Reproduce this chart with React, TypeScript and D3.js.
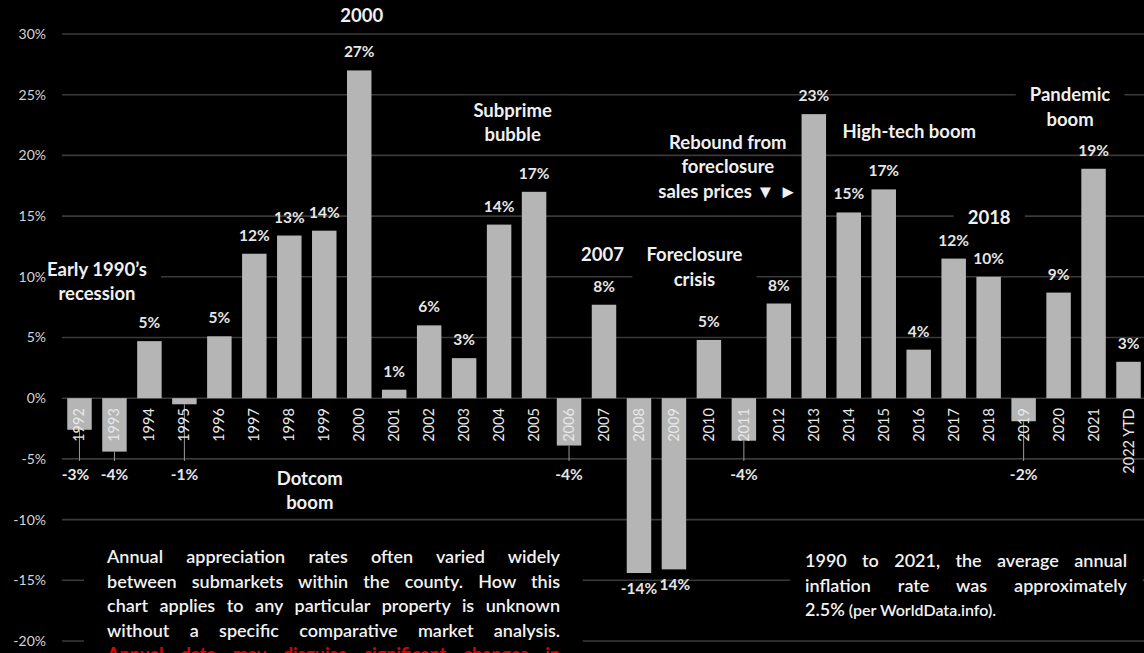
import React, { useEffect, useRef } from "react";
import * as d3 from "d3";

const years = [
  "1992", "1993", "1994", "1995", "1996", "1997", "1998", "1999", "2000", "2001",
  "2002", "2003", "2004", "2005", "2006", "2007", "2008", "2009", "2010", "2011",
  "2012", "2013", "2014", "2015", "2016", "2017", "2018", "2019", "2020", "2021", "2022 YTD",
];
const values = [
  -2.6, -4.4, 4.7, -0.5, 5.1, 11.9, 13.4, 13.8, 27.0, 0.7,
  6.0, 3.3, 14.3, 17.0, -3.9, 7.7, -14.4, -14.1, 4.8, -3.5,
  7.8, 23.4, 15.3, 17.2, 4.0, 11.5, 10.0, -1.9, 8.7, 18.9, 3.0,
];
const valueLabels = [
  "-3%", "-4%", "5%", "-1%", "5%", "12%", "13%", "14%", "27%", "1%",
  "6%", "3%", "14%", "17%", "-4%", "8%", "-14%", "14%", "5%", "-4%",
  "8%", "23%", "15%", "17%", "4%", "12%", "10%", "-2%", "9%", "19%", "3%",
];
const yTicks = [30, 25, 20, 15, 10, 5, 0, -5, -10, -15, -20];
const tickLabels = ["30%", "25%", "20%", "15%", "10%", "5%", "0%", "-5%", "-10%", "-15%", "-20%"];

const annotations = [
  { cat: "2000", dx: 2.5, v: 31.5, lines: ["2000"], box: true },
  { cat: "1992", dx: 17.5, v: 10.6, lines: ["Early 1990\u2019s", "recession"], box: true },
  { cat: "1999", dx: -14.5, v: -6.6, lines: ["Dotcom", "boom"], box: false },
  { cat: "2004", dx: 13.5, v: 23.7, lines: ["Subprime", "bubble"], box: true },
  { cat: "2007", dx: -1.5, v: 11.8, lines: ["2007"], box: false },
  { cat: "2010", dx: -14.5, v: 11.8, lines: ["Foreclosure", "crisis"], box: true },
  { cat: "2012", dx: -51, v: 21.1, lines: ["Rebound from", "foreclosure", "sales prices \u25BC \u25BA"], box: false },
  { cat: "2015", dx: 25.5, v: 22.0, lines: ["High-tech boom"], box: false },
  { cat: "2018", dx: 0.5, v: 14.9, lines: ["2018"], box: true },
  { cat: "2021", dx: -23.5, v: 25.0, lines: ["Pandemic", "boom"], box: true },
];

const leftNote = [
  "Annual appreciation rates often varied widely",
  "between submarkets within the county. How this",
  "chart applies to any particular property is unknown",
  "without a specific comparative market analysis.",
];
const leftNoteRed = "Annual data may disguise significant changes in";
const rightNote = ["1990 to 2021, the average annual", "inflation rate was approximately"];
const rightNoteLast = ["2.5%", " (per WorldData.info)."];

const W = 1144;
const H = 653;
const FONT = "Lato, 'Open Sans', sans-serif";

export default function App() {
  const svgRef = useRef<SVGSVGElement>(null);
  const maskRef = useRef<SVGGElement>(null);

  const x = d3.scaleBand<string>().domain(years).range([62, 1146]).paddingInner(0.3).paddingOuter(0.15);
  const y = d3.scaleLinear().domain([-20, 30]).range([641, 34]);
  const bw = x.bandwidth();
  const cx = (c: string) => (x(c) as number) + bw / 2;
  const lh = 24.5;

  useEffect(() => {
    const svg = svgRef.current;
    if (!svg) return;
    d3.select(svg).selectAll<SVGTextElement, unknown>("text.justify").each(function () {
      const target = +(this.getAttribute("data-width") || 0);
      this.style.wordSpacing = "0px";
      const natural = this.getComputedTextLength();
      const spaces = ((this.textContent || "").match(/ /g) || []).length;
      if (spaces > 0) this.style.wordSpacing = `${(target - natural) / spaces}px`;
    });
    const mask = d3.select(maskRef.current);
    mask.selectAll("*").remove();
    d3.select(svg).selectAll<SVGGraphicsElement, unknown>("[data-box]").each(function () {
      const b = this.getBBox();
      const px = +(this.getAttribute("data-padx") || 15);
      const py = +(this.getAttribute("data-pady") || 4);
      mask.append("rect")
        .attr("x", b.x - px).attr("y", b.y - py)
        .attr("width", b.width + 2 * px).attr("height", b.height + 2 * py)
        .attr("fill", "#000");
    });
  }, []);

  return (
    <svg ref={svgRef} width={W} height={H} style={{ position: "absolute", left: 0, top: 0, display: "block" }} fontFamily={FONT}>
      <rect x={0} y={0} width={W} height={H} fill="#000" />
      <g>
        {yTicks.map((t) => (
          <line key={t} x1={62} x2={W} y1={y(t)} y2={y(t)} stroke="#3a3a3a" strokeWidth={1.6} />
        ))}
      </g>
      <g ref={maskRef} />
      <g>
        {yTicks.map((t, i) => (
          <text key={t} x={46} y={y(t)} dy="0.35em" textAnchor="end" fontSize={14} fill="#d4d4d4">
            {tickLabels[i]}
          </text>
        ))}
      </g>
      <g>
        {years.map((c, i) => {
          const v = values[i];
          const y0 = y(0);
          const y1 = y(v);
          return (
            <rect key={c} x={x(c)} y={Math.min(y0, y1)} width={bw} height={Math.abs(y1 - y0)} fill="#b5b5b5" />
          );
        })}
      </g>
      <g>
        {years.map((c, i) => {
          const v = values[i];
          if (v >= 0 || v < -10) return null;
          return (
            <line key={c} x1={cx(c)} x2={cx(c)} y1={y(v)} y2={y(-5) + 2} stroke="#9a9a9a" strokeWidth={1} />
          );
        })}
      </g>
      <g>
        {years.map((c) => (
          <text
            key={c}
            transform={`translate(${cx(c) + 5},${y(0) + 10}) rotate(-90)`}
            textAnchor="end"
            fontSize={14.5}
            fill="#e8e8e8"
          >
            {c}
          </text>
        ))}
      </g>
      <g>
        {years.map((c, i) => {
          const v = values[i];
          let yy: number;
          if (v >= 0) yy = y(v) - 13;
          else if (v < -10) yy = y(v) + 21;
          else yy = y(-5) + 21;
          let xx = cx(c);
          if (c === "1992") xx -= 4;
          if (c === "2009") xx += 1;
          return (
            <text key={c} x={xx} y={yy} textAnchor="middle" fontSize={15.5} fontWeight={700} fill="#e6e6e6">
              {valueLabels[i]}
            </text>
          );
        })}
      </g>
      <g>
        {annotations.map((a, i) => {
          const ax = cx(a.cat) + a.dx;
          const ay = y(a.v);
          const boxProps: any = a.box ? { "data-box": "1", "data-padx": 14, "data-pady": 3 } : {};
          return (
            <text key={i} x={ax} y={ay} textAnchor="middle" fontSize={18.5} fontWeight={700} fill="#f0f0f0" {...boxProps}>
              {a.lines.map((l, j) => (
                <tspan key={j} x={ax} y={ay + j * lh} dy="0.35em">
                  {l}
                </tspan>
              ))}
            </text>
          );
        })}
      </g>
      <g data-box="1" data-padx={22} data-pady={12}>
        {leftNote.map((l, j) => (
          <text key={j} className="justify" data-width={453} x={107} y={563 + j * 24.5} fontSize={18} fontWeight={600} fill="#f2f2f2">
            {l}
          </text>
        ))}
        <text className="justify" data-width={453} x={107} y={661} fontSize={18} fontWeight={700} fill="#e00000">
          {leftNoteRed}
        </text>
      </g>
      <g data-box="1" data-padx={15} data-pady={12}>
        {rightNote.map((l, j) => (
          <text key={j} className="justify" data-width={322} x={805} y={567 + j * 24.5} fontSize={18} fontWeight={600} fill="#f2f2f2">
            {l}
          </text>
        ))}
        <text x={805} y={567 + 2 * 24.5} fontSize={18} fontWeight={600} fill="#f2f2f2">
          {rightNoteLast[0]}
          <tspan fontSize={16}>{rightNoteLast[1]}</tspan>
        </text>
      </g>
    </svg>
  );
}
